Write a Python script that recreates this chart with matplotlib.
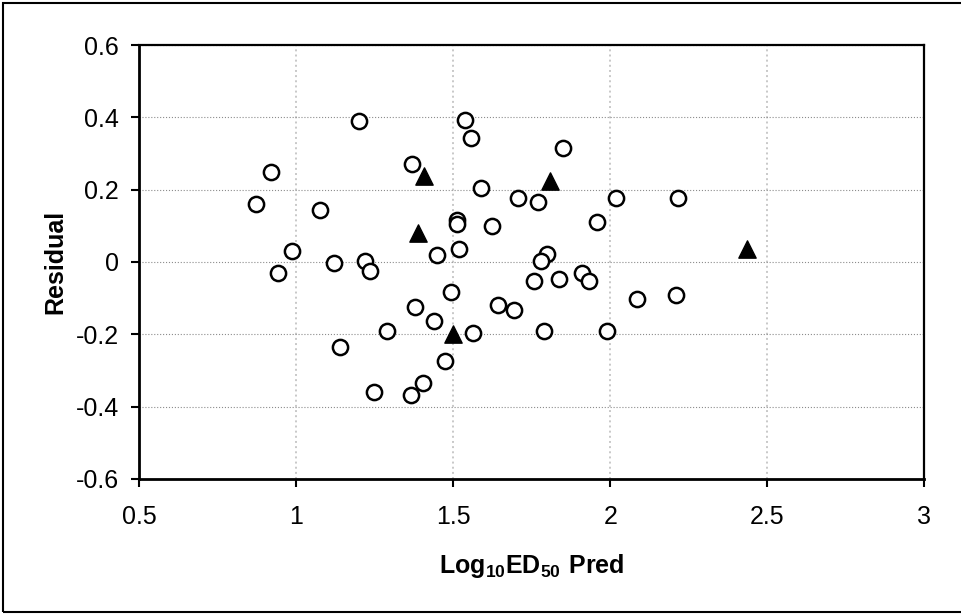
import matplotlib
matplotlib.use("Agg")
import matplotlib.pyplot as plt
from matplotlib.patches import Rectangle

plt.rcParams["font.family"] = ["Liberation Sans", "DejaVu Sans"]
plt.rcParams["mathtext.fontset"] = "custom"
plt.rcParams["mathtext.rm"] = "Liberation Sans"
plt.rcParams["mathtext.bf"] = "Liberation Sans:bold"

# open circles
circle_x = [1.20, 1.37, 0.92, 0.87, 1.075, 0.985, 1.536, 1.557, 1.85, 1.588,
            1.705, 1.77, 2.017, 2.215, 1.511, 1.511, 1.622, 1.958, 1.519, 1.119,
            1.219, 1.233, 0.941, 1.447, 1.493, 1.378, 1.437, 1.289, 1.138, 1.475,
            1.405, 1.246, 1.366, 1.80, 1.78, 1.756, 1.838, 1.91, 1.934, 1.641,
            1.692, 2.086, 2.21, 1.564, 1.789, 1.99]
circle_y = [0.39, 0.27, 0.249, 0.16, 0.1425, 0.031, 0.392, 0.342, 0.315, 0.2036,
            0.176, 0.165, 0.176, 0.176, 0.116, 0.106, 0.099, 0.110, 0.037, -0.003,
            0.004, -0.026, -0.031, 0.020, -0.084, -0.125, -0.163, -0.192, -0.236, -0.274,
            -0.336, -0.359, -0.369, 0.023, 0.004, -0.052, -0.047, -0.031, -0.054, -0.119,
            -0.134, -0.102, -0.091, -0.197, -0.191, -0.191]

# filled triangles
tri_x = [1.406, 1.387, 1.808, 1.499, 2.435]
tri_y = [0.238, 0.079, 0.224, -0.200, 0.035]

x_ticks = [0.5, 1, 1.5, 2, 2.5, 3]
x_labels = ["0.5", "1", "1.5", "2", "2.5", "3"]
y_ticks = [-0.6, -0.4, -0.2, 0, 0.2, 0.4, 0.6]
y_labels = ["-0.6", "-0.4", "-0.2", "0", "0.2", "0.4", "0.6"]

fig = plt.figure(figsize=(9.62, 6.14), dpi=100)
ax = fig.add_axes([0.145, 0.22, 0.8155, 0.7067])

ax.scatter(circle_x, circle_y, s=120, facecolors="white", edgecolors="black",
           linewidths=1.8, marker="o", zorder=3, clip_on=False)
ax.scatter(tri_x, tri_y, s=155, color="black", marker="^", zorder=4, clip_on=False)

ax.set_xlim(0.5, 3)
ax.set_ylim(-0.6, 0.6)
ax.set_xticks(x_ticks)
ax.set_xticklabels(x_labels)
ax.set_yticks(y_ticks)
ax.set_yticklabels(y_labels)
ax.tick_params(direction="out", length=6, width=1.5, labelsize=18, colors="black")
ax.tick_params(axis="y", pad=9)
ax.tick_params(axis="x", pad=13)

ax.xaxis.grid(True, color="#c8c8c8", linestyle=":", linewidth=1.4)
ax.yaxis.grid(True, color="#8c8c8c", linestyle=":", linewidth=0.8)
ax.set_axisbelow(True)

for side in ["left", "bottom"]:
    ax.spines[side].set_linewidth(2.0)
for side in ["top", "right"]:
    ax.spines[side].set_linewidth(1.6)

ax.set_xlabel(r"$\mathbf{Log_{10}ED_{50}\ Pred}$", fontsize=18, labelpad=16)
ax.set_ylabel("Residual", fontsize=18, fontweight="bold", labelpad=6)

# outer chart border
fig.patches.append(Rectangle((3 / 962, 1 - 612 / 614), 1.0, 609 / 614,
                             transform=fig.transFigure, fill=False,
                             edgecolor="black", linewidth=1.5))

fig.savefig("out.png", dpi=100)
